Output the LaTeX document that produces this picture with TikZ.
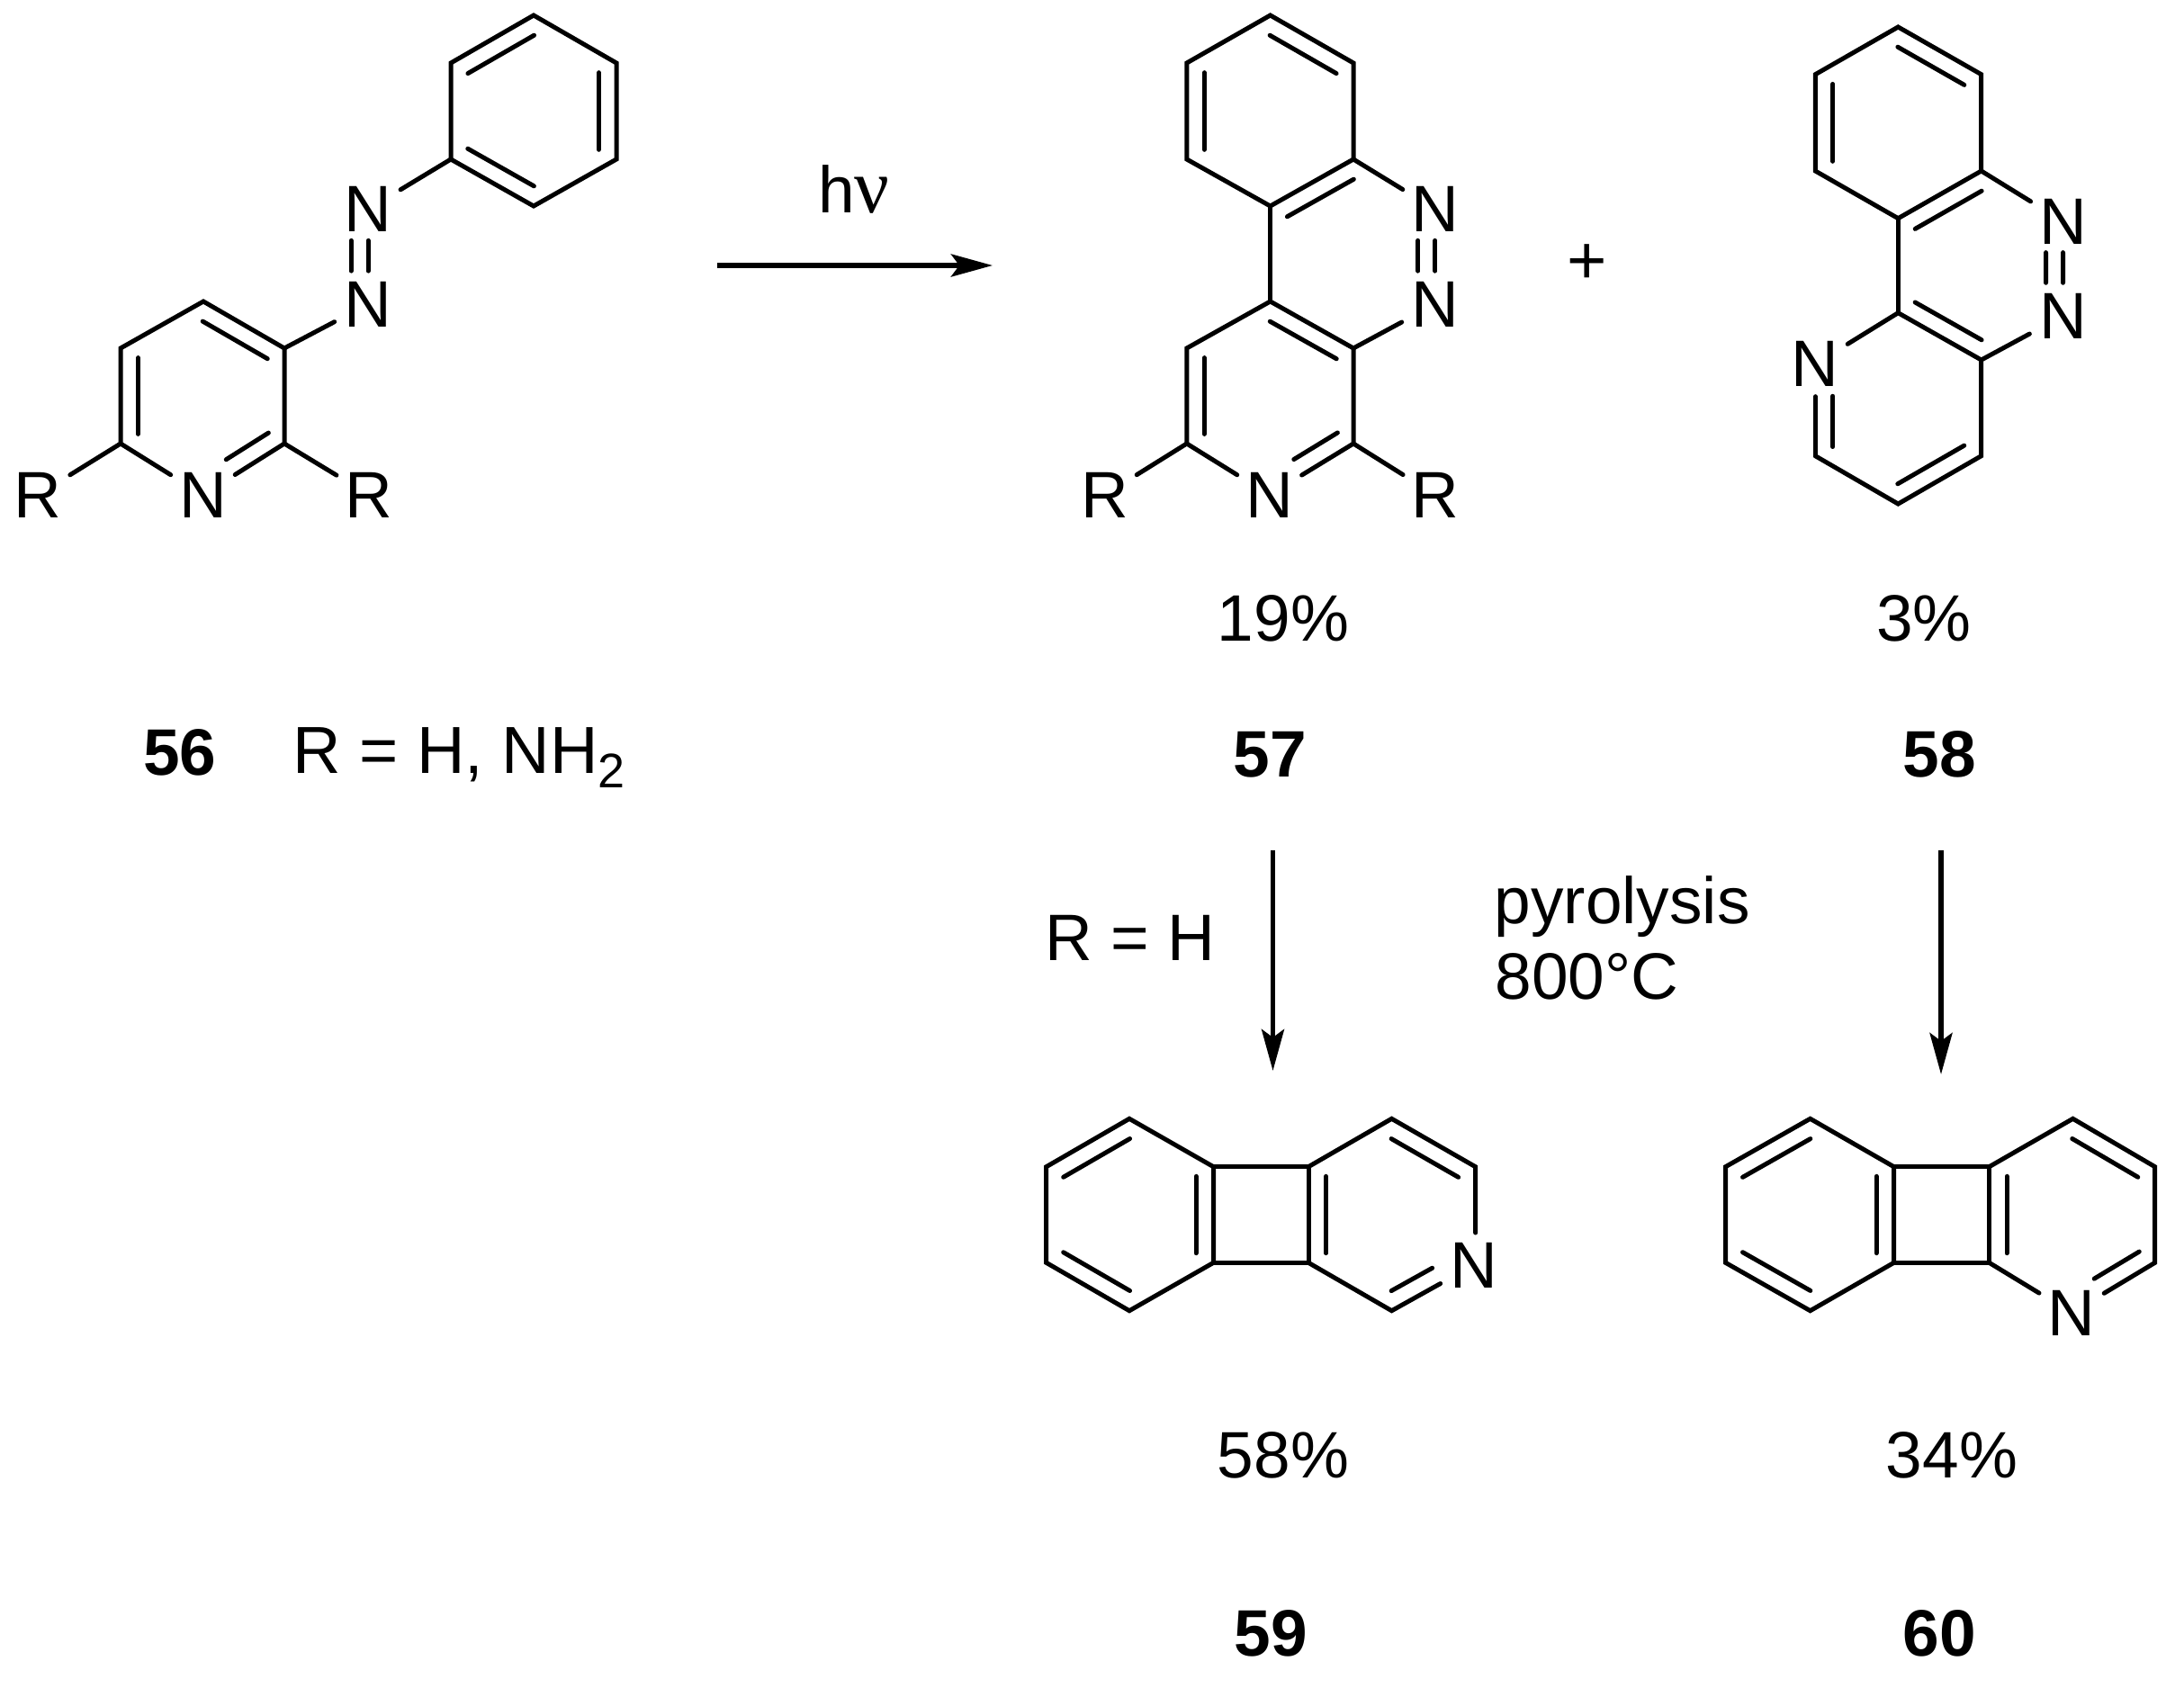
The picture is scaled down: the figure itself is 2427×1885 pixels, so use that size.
\documentclass[tikz,border=0pt]{standalone}
\usepackage{fontspec}
\setmainfont{Liberation Sans}
\newfontfamily\greekserif{Liberation Serif}
\usetikzlibrary{calc,arrows.meta}
\newcommand{\inl}[5]{\draw[bond] ($(#1)!#4!(#2)!#3!90:(#2)$) -- ($(#1)!#5!(#2)!#3!90:(#2)$);}
\newcommand{\inn}[2]{\inl{#1}{#2}{19.5pt}{0.1}{0.9}}
\newcommand{\azo}[2]{\inl{#1}{#2}{0pt}{0.33}{0.65}\inl{#1}{#2}{-19pt}{0.33}{0.65}}
\begin{document}
\begin{tikzpicture}[x=1pt,y=-1pt,
  bond/.style={line width=5pt,line cap=round,black},
  atom/.style={circle,inner sep=0pt,minimum size=84pt,font=\fontsize{73}{73}\selectfont},
  lbl/.style={inner sep=0pt,anchor=base,font=\fontsize{73}{73}\selectfont},
  lblw/.style={inner sep=0pt,anchor=base west,font=\fontsize{73}{73}\selectfont},
  num/.style={inner sep=0pt,anchor=base,font=\fontsize{73}{73}\selectfont\bfseries},
  rxn/.style={line width=5.5pt,black,-{Stealth[length=46pt,width=25pt,inset=9pt]}}]
\fill[white] (0,0) rectangle (2427,1885);
\useasboundingbox (0,0) rectangle (2427,1885);

% ---- 56
\coordinate (a1) at (593,17); \coordinate (a2) at (501,70); \coordinate (a3) at (501,177);
\coordinate (a4) at (593,229); \coordinate (a5) at (685,177); \coordinate (a6) at (685,70);
\coordinate (b1) at (226,335); \coordinate (b2) at (134,387); \coordinate (b3) at (134,493);
\coordinate (b5) at (316,493); \coordinate (b6) at (316,387);
\node[atom] (an1) at (409,232.6) {N};
\node[atom] (an2) at (409,338) {N};
\node[atom] (bN) at (225.5,550) {N};
\node[atom] (bRl) at (42,550) {R};
\node[atom] (bRr) at (410,550) {R};
\draw[bond] (a1)--(a2)--(a3)--(a4)--(a5)--(a6)--cycle;
\inn{a1}{a2}\inn{a3}{a4}\inn{a5}{a6}
\draw[bond] (a3)--(an1);
\azo{an1}{an2}
\draw[bond] (an2)--(b6);
\draw[bond] (bN)--(b3)--(b2)--(b1)--(b6)--(b5)--(bN);
\inn{b6}{b1}\inn{b2}{b3}\inl{bN}{b5}{19.5pt}{0.4}{0.92}
\draw[bond] (b3)--(bRl);
\draw[bond] (b5)--(bRr);

% ---- 57
\coordinate (c1) at (1411.6,17); \coordinate (c2) at (1318.8,70); \coordinate (c3) at (1318.8,177);
\coordinate (c4) at (1411.6,229); \coordinate (c5) at (1504,177); \coordinate (c6) at (1504,70);
\coordinate (d1) at (1411.6,335); \coordinate (d2) at (1318.8,387); \coordinate (d3) at (1318.8,493);
\coordinate (d5) at (1504,493); \coordinate (d6) at (1504,387);
\node[atom] (cn1) at (1594.8,232.6) {N};
\node[atom] (cn2) at (1594.8,338) {N};
\node[atom] (dN) at (1410.6,550) {N};
\node[atom] (dRl) at (1227.4,550) {R};
\node[atom] (dRr) at (1594.8,550) {R};
\draw[bond] (c1)--(c2)--(c3)--(c4)--(c5)--(c6)--cycle;
\inn{c6}{c1}\inn{c2}{c3}\inn{c5}{c4}
\draw[bond] (c5)--(cn1);
\azo{cn1}{cn2}
\draw[bond] (cn2)--(d6);
\draw[bond] (c4)--(d1);
\draw[bond] (dN)--(d3)--(d2)--(d1)--(d6)--(d5)--(dN);
\inn{d6}{d1}\inn{d2}{d3}\inl{dN}{d5}{19.5pt}{0.4}{0.92}
\draw[bond] (d3)--(dRl);
\draw[bond] (d5)--(dRr);

\node[inner sep=0pt,font=\fontsize{76}{76}\selectfont] (plus) at (1764,294) {+};

% ---- 58
\coordinate (e1) at (2109.3,30); \coordinate (e2) at (2017.3,82.7); \coordinate (e3) at (2017.3,190);
\coordinate (e4) at (2109.3,242.7); \coordinate (e5) at (2201.7,190); \coordinate (e6) at (2201.7,82.7);
\coordinate (f1) at (2109.3,347.7); \coordinate (f3) at (2017.3,506.7); \coordinate (f4) at (2109.3,560);
\coordinate (f5) at (2201.7,506.7); \coordinate (f6) at (2201.7,400);
\node[atom] (en1) at (2292.5,246) {N};
\node[atom] (en2) at (2292.5,351) {N};
\node[atom] (fN) at (2017.3,404.5) {N};
\draw[bond] (e1)--(e2)--(e3)--(e4)--(e5)--(e6)--cycle;
\inn{e6}{e1}\inn{e2}{e3}\inn{e5}{e4}
\draw[bond] (e5)--(en1);
\azo{en1}{en2}
\draw[bond] (en2)--(f6);
\draw[bond] (e4)--(f1);
\draw[bond] (fN)--(f1)--(f6)--(f5)--(f4)--(f3);
\draw[bond,shorten >=-6pt] (f3)--(fN);
\inn{f1}{f6}\inn{f4}{f5}\inl{fN}{f3}{19.5pt}{0.35}{0.9}

% ---- 59
\coordinate (g1) at (1255,1243.3); \coordinate (g2) at (1162.7,1296.7); \coordinate (g3) at (1162.7,1403.3);
\coordinate (g4) at (1255,1456.7); \coordinate (g5) at (1348.5,1403.3); \coordinate (g6) at (1348.5,1296.7);
\coordinate (h1) at (1546.5,1243.3); \coordinate (h2) at (1454,1296.7); \coordinate (h3) at (1454,1403.3);
\coordinate (h4) at (1546.5,1456.7); \coordinate (h6) at (1639.6,1296.7);
\node[atom] (hN) at (1637.5,1406) {N};
\coordinate (h6b) at (1639.6,1370);
\draw[bond] (g1)--(g2)--(g3)--(g4)--(g5)--(g6)--cycle;
\inn{g1}{g2}\inn{g3}{g4}\inn{g5}{g6}
\draw[bond] (g6)--(h2)--(h3)--(g5);
\draw[bond] (h2)--(h1)--(h6)--(h6b);
\draw[bond] (h3)--(h4)--(hN);
\inn{h2}{h3}\inn{h6}{h1}\inl{h4}{hN}{19.5pt}{0.1}{0.6}

% ---- 60
\coordinate (k1) at (2011.6,1243.3); \coordinate (k2) at (1917.5,1296.7); \coordinate (k3) at (1917.5,1403.3);
\coordinate (k4) at (2011.6,1456.7); \coordinate (k5) at (2104.6,1403.3); \coordinate (k6) at (2104.6,1296.7);
\coordinate (m1) at (2303.5,1243.3); \coordinate (m2) at (2210.5,1296.7); \coordinate (m3) at (2210.5,1403.3);
\coordinate (m5) at (2394.7,1403.3); \coordinate (m6) at (2394.7,1296.7);
\node[atom] (mN) at (2302,1459) {N};
\draw[bond] (k1)--(k2)--(k3)--(k4)--(k5)--(k6)--cycle;
\inn{k1}{k2}\inn{k3}{k4}\inn{k5}{k6}
\draw[bond] (k6)--(m2)--(m3)--(k5);
\draw[bond] (m2)--(m1)--(m6)--(m5)--(mN);
\draw[bond] (m3)--(mN);
\inn{m2}{m3}\inn{m6}{m1}\inl{m5}{mN}{-19.5pt}{0.08}{0.62}

% ---- arrows
\coordinate (r1s) at (797,295); \coordinate (r1e) at (1103,295);
\coordinate (r2s) at (1414.5,945); \coordinate (r2e) at (1414.5,1190);
\coordinate (r3s) at (2157,945); \coordinate (r3e) at (2157,1194);
\draw[rxn] (r1s)--(r1e);
\draw[rxn] (r2s)--(r2e);
\draw[rxn] (r3s)--(r3e);

% ---- texts
\node[lbl] (hnu) at (949,236.7) {h{\greekserif\fontsize{86}{86}\selectfont ν}};
\node[num] (n56) at (200,861) {56};
\node[lblw] (rdef) at (325.5,859.3) {\fontsize{74}{74}\selectfont R = H, NH\raisebox{-16.5pt}{\fontsize{54}{54}\selectfont 2}};
\node[lbl] (y57) at (1426,712) {19\%};
\node[lbl] (y58) at (2138,712) {3\%};
\node[num] (n57) at (1411.5,863) {57};
\node[num] (n58) at (2155.5,863) {58};
\node[lblw] (rh) at (1161,1067) {R = H};
\node[lblw] (pyr) at (1660.5,1026) {pyrolysis};
\node[lblw] (temp) at (1661.5,1110.7) {800°C};
\node[lbl] (y59) at (1426,1642) {58\%};
\node[lbl] (y60) at (2169,1642) {34\%};
\node[num] (n59) at (1412,1840) {59};
\node[num] (n60) at (2155,1840) {60};
\end{tikzpicture}
\end{document}
